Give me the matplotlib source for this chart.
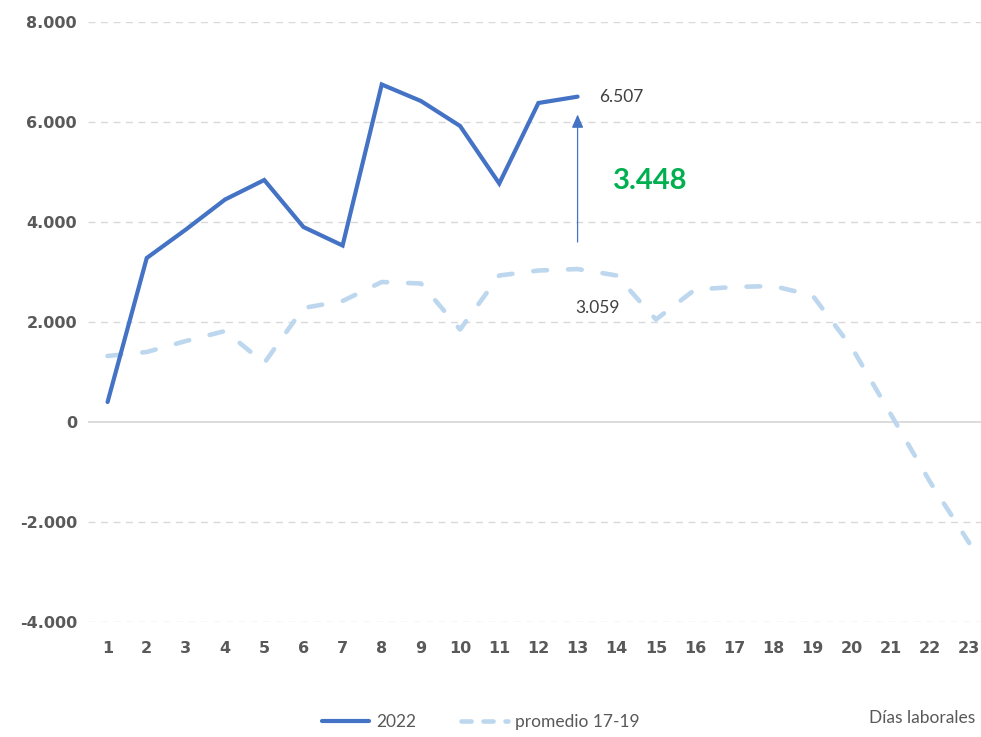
import matplotlib

matplotlib.use("Agg")

import matplotlib.pyplot as plt
from matplotlib.lines import Line2D

# días laborales
days = list(range(1, 24))
days_2022 = list(range(1, 14))

serie_2022 = [400, 3280, 3850, 4450, 4840, 3900, 3530, 6750, 6420, 5920, 4770, 6380, 6507]
promedio_17_19 = [1320, 1400, 1620, 1820, 1180, 2280, 2420, 2800, 2770, 1850, 2930, 3030,
                  3059, 2930, 2050, 2650, 2700, 2720, 2530, 1490, 150, -1200, -2420]

y_ticks = [-4000, -2000, 0, 2000, 4000, 6000, 8000]
y_tick_labels = ["-4.000", "-2.000", "0", "2.000", "4.000", "6.000", "8.000"]

diff_label = "3.448"
last_2022_label = "6.507"
last_avg_label = "3.059"

BLUE = "#4472C4"
LIGHT = "#BDD7EE"
GRAY = "#595959"

fig = plt.figure(figsize=(9.81, 7.37), dpi=100)
ax = fig.add_axes([88 / 981, 115 / 737, 893 / 981, 600 / 737])

ax.plot(days, promedio_17_19, color=LIGHT, lw=3.3, dashes=(3, 4.6),
        dash_capstyle="round", solid_capstyle="round", zorder=2)
ax.plot(days_2022, serie_2022, color=BLUE, lw=3.0, solid_capstyle="round",
        solid_joinstyle="miter", zorder=3)

ax.set_xlim(0.5, 23.3)
ax.set_ylim(-4000, 8000)
ax.set_yticks(y_ticks, labels=y_tick_labels)
ax.set_xticks(days, labels=[str(d) for d in days])
for s in ax.spines.values():
    s.set_visible(False)
ax.tick_params(length=0, labelsize=11.5, labelcolor=GRAY, pad=8)
for lab in ax.get_xticklabels() + ax.get_yticklabels():
    lab.set_fontweight("bold")
ax.tick_params(axis="x", pad=14)

for yv in y_ticks:
    if yv == 0:
        ax.axhline(yv, color="#D9D9D9", lw=1.3, zorder=1)
    else:
        ax.axhline(yv, color="#D9D9D9", lw=1.0, ls=(0, (5, 4)), zorder=1)

# flecha de diferencia
ax.annotate("", xy=(13, 6150), xytext=(13, 3600),
            arrowprops=dict(arrowstyle="-|>,head_length=0.8,head_width=0.35",
                            color=BLUE, lw=0.9, shrinkA=0, shrinkB=0))
ax.text(13.55, 6507, last_2022_label, fontsize=12.5, color="#404040", family="Lato",
        va="center", ha="left")
ax.text(13.5, 2280, last_avg_label, fontsize=12.5, color="#404040", family="Lato",
        va="center", ha="center")
ax.text(13.9, 4820, diff_label, fontsize=21, color="#00B050", family="Lato",
        fontweight="bold", va="center", ha="left")

handles = [Line2D([], [], color=BLUE, lw=3.0, solid_capstyle="round"),
           Line2D([], [], color=LIGHT, lw=3.3, dashes=(2.2, 2.6), dash_capstyle="round")]
fig.legend(handles, ["2022", "promedio 17-19"], loc="center", bbox_to_anchor=(0.49, 0.02),
           ncol=2, frameon=False, handlelength=2.7, columnspacing=2.6, handletextpad=0.4,
           prop={"family": "Lato", "size": 12.5}, labelcolor="#595959")
fig.text(975 / 981, 1 - 718 / 737, "Días laborales", ha="right", va="center",
         fontsize=12.5, color="#595959", family="Lato")

fig.savefig("out.png", dpi=100)
